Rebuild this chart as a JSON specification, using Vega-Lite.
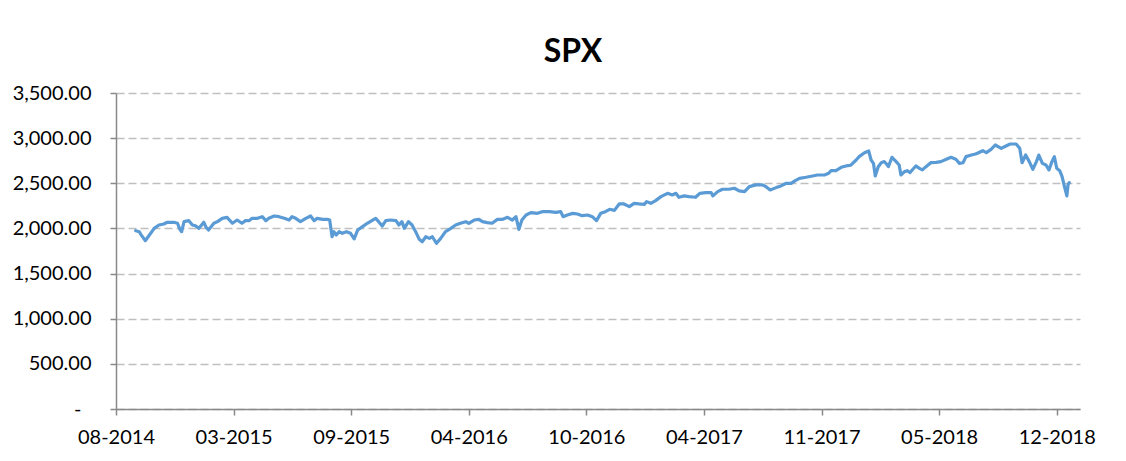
{
  "$schema": "https://vega.github.io/schema/vega-lite/v6.json",
  "width": 964,
  "height": 316,
  "autosize": {"type": "none"},
  "padding": {"left": 116, "top": 93, "right": 46, "bottom": 52},
  "background": "white",
  "title": {"text": "SPX", "font": "Lato", "fontSize": 32, "fontWeight": "bold", "color": "#000000", "anchor": "middle", "frame": "group", "dx": -25, "offset": 14},
  "data": {"values": [
    {"date": "2014-09-21", "close": 1975}, {"date": "2014-09-27", "close": 1964}, {"date": "2014-09-29", "close": 1940},
    {"date": "2014-10-07", "close": 1864}, {"date": "2014-10-14", "close": 1927}, {"date": "2014-10-22", "close": 2001},
    {"date": "2014-10-30", "close": 2038}, {"date": "2014-11-07", "close": 2049}, {"date": "2014-11-13", "close": 2068},
    {"date": "2014-11-24", "close": 2068}, {"date": "2014-11-30", "close": 2057}, {"date": "2014-12-04", "close": 1990},
    {"date": "2014-12-07", "close": 1964}, {"date": "2014-12-11", "close": 2075}, {"date": "2014-12-19", "close": 2086},
    {"date": "2014-12-25", "close": 2038}, {"date": "2014-12-30", "close": 2030}, {"date": "2015-01-05", "close": 2001},
    {"date": "2015-01-13", "close": 2068}, {"date": "2015-01-17", "close": 2012}, {"date": "2015-01-21", "close": 1983},
    {"date": "2015-01-30", "close": 2057}, {"date": "2015-02-05", "close": 2075}, {"date": "2015-02-13", "close": 2112},
    {"date": "2015-02-21", "close": 2123}, {"date": "2015-03-02", "close": 2057}, {"date": "2015-03-10", "close": 2093},
    {"date": "2015-03-18", "close": 2057}, {"date": "2015-03-24", "close": 2086}, {"date": "2015-03-30", "close": 2086},
    {"date": "2015-04-04", "close": 2112}, {"date": "2015-04-13", "close": 2112}, {"date": "2015-04-21", "close": 2130},
    {"date": "2015-04-27", "close": 2086}, {"date": "2015-05-02", "close": 2112}, {"date": "2015-05-11", "close": 2138},
    {"date": "2015-05-19", "close": 2130}, {"date": "2015-05-28", "close": 2112}, {"date": "2015-06-05", "close": 2093},
    {"date": "2015-06-10", "close": 2130}, {"date": "2015-06-16", "close": 2112}, {"date": "2015-06-24", "close": 2075},
    {"date": "2015-07-03", "close": 2112}, {"date": "2015-07-11", "close": 2138}, {"date": "2015-07-17", "close": 2086},
    {"date": "2015-07-22", "close": 2112}, {"date": "2015-07-31", "close": 2100}, {"date": "2015-08-08", "close": 2100},
    {"date": "2015-08-12", "close": 2093}, {"date": "2015-08-16", "close": 1908}, {"date": "2015-08-19", "close": 1964},
    {"date": "2015-08-23", "close": 1927}, {"date": "2015-08-28", "close": 1964}, {"date": "2015-09-02", "close": 1946},
    {"date": "2015-09-09", "close": 1964}, {"date": "2015-09-16", "close": 1946}, {"date": "2015-09-22", "close": 1885},
    {"date": "2015-09-28", "close": 1983}, {"date": "2015-10-06", "close": 2020}, {"date": "2015-10-14", "close": 2057},
    {"date": "2015-10-23", "close": 2093}, {"date": "2015-10-28", "close": 2112}, {"date": "2015-11-02", "close": 2075},
    {"date": "2015-11-08", "close": 2027}, {"date": "2015-11-14", "close": 2086}, {"date": "2015-11-22", "close": 2093},
    {"date": "2015-12-01", "close": 2086}, {"date": "2015-12-06", "close": 2038}, {"date": "2015-12-11", "close": 2075},
    {"date": "2015-12-15", "close": 2001}, {"date": "2015-12-22", "close": 2075}, {"date": "2015-12-28", "close": 2038},
    {"date": "2016-01-03", "close": 1964}, {"date": "2016-01-09", "close": 1879}, {"date": "2016-01-14", "close": 1853},
    {"date": "2016-01-20", "close": 1908}, {"date": "2016-01-26", "close": 1890}, {"date": "2016-01-31", "close": 1908},
    {"date": "2016-02-07", "close": 1835}, {"date": "2016-02-14", "close": 1890}, {"date": "2016-02-22", "close": 1964},
    {"date": "2016-03-02", "close": 2001}, {"date": "2016-03-10", "close": 2038}, {"date": "2016-03-18", "close": 2057},
    {"date": "2016-03-27", "close": 2075}, {"date": "2016-04-01", "close": 2057}, {"date": "2016-04-10", "close": 2093},
    {"date": "2016-04-18", "close": 2100}, {"date": "2016-04-24", "close": 2075}, {"date": "2016-05-02", "close": 2064},
    {"date": "2016-05-10", "close": 2057}, {"date": "2016-05-19", "close": 2100}, {"date": "2016-05-27", "close": 2100},
    {"date": "2016-06-05", "close": 2123}, {"date": "2016-06-13", "close": 2093}, {"date": "2016-06-19", "close": 2130},
    {"date": "2016-06-24", "close": 1990}, {"date": "2016-06-29", "close": 2093}, {"date": "2016-07-06", "close": 2149},
    {"date": "2016-07-14", "close": 2175}, {"date": "2016-07-25", "close": 2167}, {"date": "2016-08-02", "close": 2186},
    {"date": "2016-08-14", "close": 2186}, {"date": "2016-08-25", "close": 2178}, {"date": "2016-09-02", "close": 2186},
    {"date": "2016-09-06", "close": 2130}, {"date": "2016-09-13", "close": 2149}, {"date": "2016-09-22", "close": 2167},
    {"date": "2016-09-30", "close": 2160}, {"date": "2016-10-08", "close": 2141}, {"date": "2016-10-17", "close": 2149},
    {"date": "2016-10-25", "close": 2130}, {"date": "2016-11-01", "close": 2086}, {"date": "2016-11-08", "close": 2167},
    {"date": "2016-11-16", "close": 2186}, {"date": "2016-11-23", "close": 2212}, {"date": "2016-12-01", "close": 2200},
    {"date": "2016-12-09", "close": 2271}, {"date": "2016-12-17", "close": 2271}, {"date": "2016-12-26", "close": 2241},
    {"date": "2017-01-03", "close": 2278}, {"date": "2017-01-11", "close": 2271}, {"date": "2017-01-20", "close": 2267},
    {"date": "2017-01-24", "close": 2297}, {"date": "2017-01-31", "close": 2278}, {"date": "2017-02-08", "close": 2308},
    {"date": "2017-02-17", "close": 2352}, {"date": "2017-02-28", "close": 2389}, {"date": "2017-03-08", "close": 2371},
    {"date": "2017-03-14", "close": 2389}, {"date": "2017-03-19", "close": 2345}, {"date": "2017-03-28", "close": 2360},
    {"date": "2017-04-05", "close": 2352}, {"date": "2017-04-16", "close": 2345}, {"date": "2017-04-23", "close": 2389},
    {"date": "2017-05-03", "close": 2397}, {"date": "2017-05-12", "close": 2397}, {"date": "2017-05-15", "close": 2360},
    {"date": "2017-05-23", "close": 2408}, {"date": "2017-05-31", "close": 2434}, {"date": "2017-06-11", "close": 2434},
    {"date": "2017-06-20", "close": 2445}, {"date": "2017-06-28", "close": 2415}, {"date": "2017-07-07", "close": 2408},
    {"date": "2017-07-15", "close": 2463}, {"date": "2017-07-26", "close": 2482}, {"date": "2017-08-06", "close": 2482},
    {"date": "2017-08-12", "close": 2463}, {"date": "2017-08-19", "close": 2426}, {"date": "2017-08-29", "close": 2452},
    {"date": "2017-09-06", "close": 2471}, {"date": "2017-09-15", "close": 2500}, {"date": "2017-09-23", "close": 2500},
    {"date": "2017-09-30", "close": 2530}, {"date": "2017-10-07", "close": 2555}, {"date": "2017-10-18", "close": 2567},
    {"date": "2017-10-29", "close": 2581}, {"date": "2017-11-06", "close": 2592}, {"date": "2017-11-18", "close": 2592},
    {"date": "2017-11-25", "close": 2611}, {"date": "2017-11-29", "close": 2640}, {"date": "2017-12-07", "close": 2640},
    {"date": "2017-12-16", "close": 2677}, {"date": "2017-12-24", "close": 2692}, {"date": "2018-01-01", "close": 2700},
    {"date": "2018-01-10", "close": 2758}, {"date": "2018-01-15", "close": 2795}, {"date": "2018-01-24", "close": 2839},
    {"date": "2018-01-31", "close": 2858}, {"date": "2018-02-04", "close": 2758}, {"date": "2018-02-08", "close": 2721},
    {"date": "2018-02-11", "close": 2581}, {"date": "2018-02-16", "close": 2684}, {"date": "2018-02-21", "close": 2728},
    {"date": "2018-02-26", "close": 2740}, {"date": "2018-03-01", "close": 2721}, {"date": "2018-03-05", "close": 2684},
    {"date": "2018-03-11", "close": 2788}, {"date": "2018-03-18", "close": 2740}, {"date": "2018-03-23", "close": 2703},
    {"date": "2018-03-26", "close": 2592}, {"date": "2018-04-01", "close": 2629}, {"date": "2018-04-06", "close": 2640},
    {"date": "2018-04-10", "close": 2618}, {"date": "2018-04-15", "close": 2655}, {"date": "2018-04-20", "close": 2692},
    {"date": "2018-04-26", "close": 2666}, {"date": "2018-05-01", "close": 2648}, {"date": "2018-05-07", "close": 2684},
    {"date": "2018-05-15", "close": 2728}, {"date": "2018-05-24", "close": 2732}, {"date": "2018-06-01", "close": 2740},
    {"date": "2018-06-10", "close": 2766}, {"date": "2018-06-18", "close": 2788}, {"date": "2018-06-26", "close": 2766},
    {"date": "2018-07-02", "close": 2721}, {"date": "2018-07-08", "close": 2728}, {"date": "2018-07-13", "close": 2795},
    {"date": "2018-07-22", "close": 2813}, {"date": "2018-07-29", "close": 2824}, {"date": "2018-08-03", "close": 2839},
    {"date": "2018-08-10", "close": 2861}, {"date": "2018-08-16", "close": 2839}, {"date": "2018-08-24", "close": 2876},
    {"date": "2018-08-31", "close": 2924}, {"date": "2018-09-10", "close": 2887}, {"date": "2018-09-18", "close": 2913},
    {"date": "2018-09-25", "close": 2935}, {"date": "2018-10-05", "close": 2935}, {"date": "2018-10-11", "close": 2887},
    {"date": "2018-10-15", "close": 2728}, {"date": "2018-10-21", "close": 2813}, {"date": "2018-10-27", "close": 2740},
    {"date": "2018-11-02", "close": 2655}, {"date": "2018-11-08", "close": 2740}, {"date": "2018-11-12", "close": 2813},
    {"date": "2018-11-18", "close": 2721}, {"date": "2018-11-24", "close": 2703}, {"date": "2018-11-29", "close": 2648},
    {"date": "2018-12-04", "close": 2740}, {"date": "2018-12-08", "close": 2795}, {"date": "2018-12-12", "close": 2666},
    {"date": "2018-12-17", "close": 2640}, {"date": "2018-12-21", "close": 2573}, {"date": "2018-12-25", "close": 2463},
    {"date": "2018-12-29", "close": 2360}, {"date": "2018-12-31", "close": 2486}, {"date": "2019-01-02", "close": 2507}
  ]},
  "mark": {"type": "line", "color": "#5B9BD5", "strokeWidth": 3.2, "strokeJoin": "round", "strokeCap": "round"},
  "encoding": {
    "x": {
      "field": "date",
      "type": "temporal",
      "scale": {"domain": [{"year": 2014, "month": 8, "date": 19}, {"year": 2019, "month": 1, "date": 20}]},
      "axis": {
        "title": null,
        "grid": false,
        "values": [
          {"year": 2014, "month": 8, "date": 19},
          {"year": 2015, "month": 3, "date": 4},
          {"year": 2015, "month": 9, "date": 17},
          {"year": 2016, "month": 4, "date": 1},
          {"year": 2016, "month": 10, "date": 15},
          {"year": 2017, "month": 4, "date": 30},
          {"year": 2017, "month": 11, "date": 13},
          {"year": 2018, "month": 5, "date": 29},
          {"year": 2018, "month": 12, "date": 12}
        ],
        "format": "%m-%Y",
        "domainColor": "#898989",
        "domainWidth": 1.5,
        "tickColor": "#898989",
        "tickWidth": 1.5,
        "tickSize": 6,
        "labelFont": "Lato",
        "labelFontSize": 20,
        "labelColor": "#000000",
        "labelPadding": 12,
        "labelFlush": false,
        "labelOverlap": false
      }
    },
    "y": {
      "field": "close",
      "type": "quantitative",
      "scale": {"domain": [0, 3500], "nice": false},
      "axis": {
        "title": null,
        "values": [0, 500, 1000, 1500, 2000, 2500, 3000, 3500],
        "labelExpr": "datum.value == 0 ? '-' : format(datum.value, ',.2f')",
        "grid": true,
        "gridColor": "#bfbfbf",
        "gridDash": [8, 4],
        "gridWidth": 1.3,
        "domainColor": "#898989",
        "domainWidth": 1.5,
        "tickColor": "#898989",
        "tickWidth": 1.5,
        "tickSize": 6,
        "labelFont": "Lato",
        "labelFontSize": 20,
        "labelColor": "#000000",
        "labelPadding": {"condition": {"test": "datum.value == 0", "value": 29}, "value": 19}
      }
    }
  },
  "config": {"view": {"stroke": null}}
}
